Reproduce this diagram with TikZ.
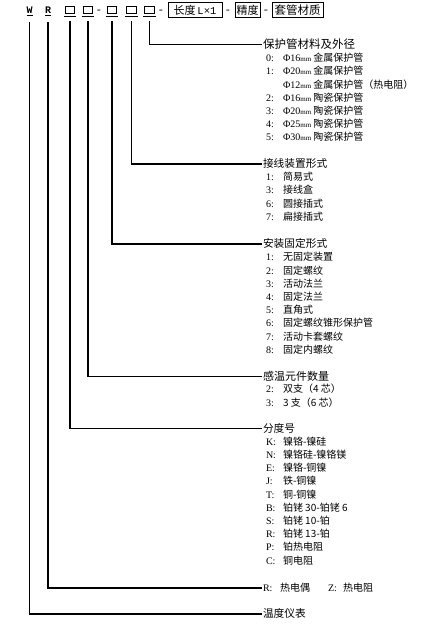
\documentclass[tikz,border=0pt]{standalone}
\usepackage{fontspec}
\setmainfont{Noto Sans CJK SC}
\newfontfamily\lat{Liberation Serif}
\newfontfamily\mono{Liberation Mono}
\newcommand\dia[1]{{\lat Φ#1{\fontsize{7}{8}\selectfont mm}}}
\tikzset{
  wire/.style={line width=1.5pt, shorten >=1pt},
  txt/.style={anchor=west, inner sep=0pt, outer sep=0pt, text height=8.8pt, text depth=1.2pt, font=\fontsize{10}{12}\selectfont},
  head/.style={txt, font=\fontsize{10.7}{12}\selectfont},
  code/.style={txt, font=\lat\fontsize{10}{12}\selectfont},
  letter/.style={anchor=base, inner sep=0pt, font=\mono\bfseries\fontsize{10}{10}\selectfont},
  slot/.style={draw, line width=0.9pt, minimum width=9.3pt, minimum height=6.8pt, inner sep=0pt, outer sep=0pt},
  field/.style={draw, line width=0.9pt, minimum height=14.4pt, inner sep=0pt, outer sep=0pt, font=\fontsize{11}{12}\selectfont},
  sep/.style={anchor=base, inner sep=0pt, font=\mono\fontsize{11}{11}\selectfont},
  uline/.style={line width=0.9pt},
}
\begin{document}
\begin{tikzpicture}[x=1pt,y=-1pt]
\useasboundingbox (0,0) rectangle (444,644);
% header
\node[letter] (w) at (29.5,14) {\underline{W}};
\node[letter] (r) at (48,14) {\underline{R}};
\foreach \n/\x in {b1/70,b2/88,b3/112,b4/131.5,b5/149.5}{
  \node[slot] (\n) at (\x,10) {};
  \draw[uline] ([xshift=-1.5pt,yshift=-2.6pt]\n.south west) -- ([xshift=1.5pt,yshift=-2.6pt]\n.south east);
}
\node[sep] (d1) at (99,13.5) {-};
\node[sep] (d2) at (161,13.5) {-};
\node[field, minimum width=54pt] (f1) at (195,10) {长度\,{\mono\fontsize{10.5}{11}\selectfont L×1}};
\node[sep] (d3) at (228,13.5) {-};
\node[field, minimum width=25pt] (f2) at (247.5,10) {精度};
\node[sep] (d4) at (266,13.5) {-};
\node[field, minimum width=51pt] (f3) at (297.5,10) {\fontsize{11.5}{12}\selectfont 套管材质};

% headings
\node[head, font=\fontsize{11.5}{12}\selectfont] (h1) at (263,44.5) {保护管材料及外径};
\node[head] (h2) at (263,164) {接线装置形式};
\node[head] (h3) at (263,244) {安装固定形式};
\node[head, font=\fontsize{11}{12}\selectfont] (h4) at (263,376.5) {感温元件数量};
\node[head] (h5) at (263,428.5) {分度号};

% section 1
\foreach \c/\t [count=\i] in {0:/\dia{16} 金属保护管, 1:/\dia{20} 金属保护管, /\dia{12} 金属保护管（热电阻）, 2:/\dia{16} 陶瓷保护管, 3:/\dia{20} 陶瓷保护管, 4:/\dia{25} 陶瓷保护管, 5:/\dia{30} 陶瓷保护管}{
  \node[code] (a\i) at (266,{58+13.2*(\i-1)}) {\c};
  \node[txt] (at\i) at (283,{58+13.2*(\i-1)}) {\t};
}
% section 2
\foreach \c/\t [count=\i] in {1:/简易式, 3:/接线盒, 6:/圆接插式, 7:/扁接插式}{
  \node[code] (b\i c) at (266,{177+13.2*(\i-1)}) {\c};
  \node[txt] (b\i t) at (283,{177+13.2*(\i-1)}) {\t};
}
% section 3
\foreach \c/\t [count=\i] in {1:/无固定装置, 2:/固定螺纹, 3:/活动法兰, 4:/固定法兰, 5:/直角式, 6:/固定螺纹锥形保护管, 7:/活动卡套螺纹, 8:/固定内螺纹}{
  \node[code] (c\i c) at (266,{257+13.2*(\i-1)}) {\c};
  \node[txt] (c\i t) at (283,{257+13.2*(\i-1)}) {\t};
}
% section 4
\foreach \c/\t [count=\i] in {2:/双支（4 芯）, 3:/3 支（6 芯）}{
  \node[code] (e\i c) at (266,{389+13.3*(\i-1)}) {\c};
  \node[txt] (e\i t) at (283,{389+13.3*(\i-1)}) {\t};
}
% section 5
\foreach \c/\t [count=\i] in {K:/镍铬-镍硅, N:/镍铬硅-镍铬镁, E:/镍铬-铜镍, J:/铁-铜镍, T:/铜-铜镍, B:/铂铑 30-铂铑 6, S:/铂铑 10-铂, R:/铂铑 13-铂, P:/铂热电阻, C:/铜电阻}{
  \node[code] (g\i c) at (266,{441.5+13.2*(\i-1)}) {\c};
  \node[txt] (g\i t) at (283,{441.5+13.2*(\i-1)}) {\t};
}
% bottom rows
\node[code] (rzr) at (263,588) {R:};
\node[txt] (rzrt) at (280,588) {热电偶};
\node[code] (rzz) at (328,588) {Z:};
\node[txt] (rzzt) at (343,588) {热电阻};
\node[head] (wlab) at (263,614) {温度仪表};

% connectors
\draw[wire] ([yshift=-8pt]b5.south) |- (h1.west);
\draw[wire] ([yshift=-8pt]b4.south) |- (h2.west);
\draw[wire] ([yshift=-8pt]b3.south) |- (h3.west);
\draw[wire] ([yshift=-8pt]b2.south) |- (h4.west);
\draw[wire] ([yshift=-8pt]b1.south) |- (h5.west);
\draw[wire] ([yshift=-6pt]r.south) |- (rzr.west);
\draw[wire] ([yshift=-6pt]w.south) |- (wlab.west);
\end{tikzpicture}
\end{document}
